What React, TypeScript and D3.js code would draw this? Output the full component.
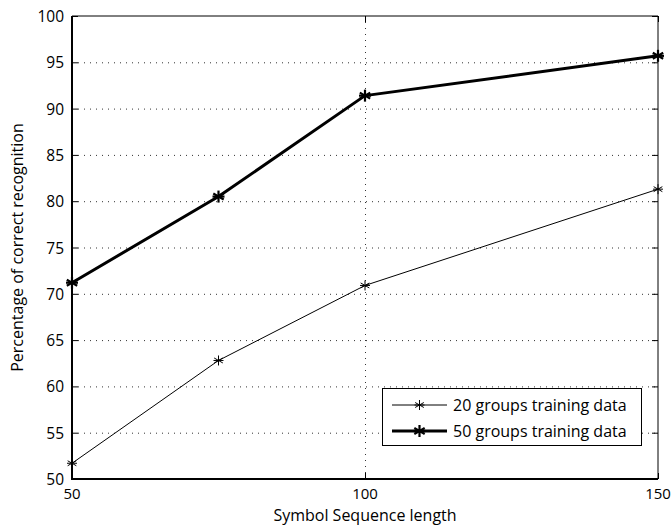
import React, { useRef, useEffect } from "react";
import * as d3 from "d3";

const seqLengths = [50, 75, 100, 150];
const groups20 = [51.7, 62.8, 70.9, 81.3];
const groups50 = [71.2, 80.5, 91.4, 95.7];
const xTicks = [50, 100, 150];
const yTicks = [50, 55, 60, 65, 70, 75, 80, 85, 90, 95, 100];
const seriesNames = ["20 groups training data", "50 groups training data"];

export default function App() {
  const ref = useRef<SVGSVGElement>(null);

  useEffect(() => {
    const width = 671;
    const height = 528;
    const m = { left: 72, right: 13, top: 16, bottom: 49 };
    const font = "'Open Sans', sans-serif";

    const svg = d3.select(ref.current);
    svg.selectAll("*").remove();
    svg.attr("width", width).attr("height", height);

    svg.append("rect").attr("width", width).attr("height", height).attr("fill", "#fff");

    const x = d3.scaleLinear().domain([50, 150]).range([m.left, width - m.right]);
    const y = d3.scaleLinear().domain([50, 100]).range([height - m.bottom, m.top]);
    const [x0, x1] = x.range();
    const [y0, y1] = y.range();

    // dotted grid
    const grid = svg.append("g").attr("stroke", "#333").attr("stroke-width", 1)
      .attr("stroke-dasharray", "1,5");
    grid.selectAll(".gy").data(yTicks.filter(t => t > 50 && t < 100)).enter()
      .append("line")
      .attr("x1", x0).attr("x2", x1)
      .attr("y1", d => y(d) + 0.5).attr("y2", d => y(d) + 0.5);
    grid.selectAll(".gx").data(xTicks.filter(t => t > 50 && t < 150)).enter()
      .append("line")
      .attr("x1", d => x(d) + 0.5).attr("x2", d => x(d) + 0.5)
      .attr("y1", y0).attr("y2", y1);

    // inward ticks
    const ticks = svg.append("g").attr("stroke", "#000").attr("stroke-width", 1);
    yTicks.forEach(t => {
      ticks.append("line").attr("x1", x0).attr("x2", x0 + 6).attr("y1", y(t) + 0.5).attr("y2", y(t) + 0.5);
      ticks.append("line").attr("x1", x1).attr("x2", x1 - 6).attr("y1", y(t) + 0.5).attr("y2", y(t) + 0.5);
    });
    xTicks.forEach(t => {
      ticks.append("line").attr("x1", x(t) + 0.5).attr("x2", x(t) + 0.5).attr("y1", y0).attr("y2", y0 - 6);
      ticks.append("line").attr("x1", x(t) + 0.5).attr("x2", x(t) + 0.5).attr("y1", y1).attr("y2", y1 + 6);
    });

    // box
    svg.append("line").attr("x1", x0).attr("x2", x1).attr("y1", y1).attr("y2", y1).attr("stroke", "#000").attr("stroke-width", 1);
    svg.append("line").attr("x1", x1).attr("x2", x1).attr("y1", y1).attr("y2", y0).attr("stroke", "#000").attr("stroke-width", 1);
    svg.append("line").attr("x1", x0).attr("x2", x0).attr("y1", y1).attr("y2", y0 + 1).attr("stroke", "#000").attr("stroke-width", 2);
    svg.append("line").attr("x1", x0 - 1).attr("x2", x1).attr("y1", y0).attr("y2", y0).attr("stroke", "#000").attr("stroke-width", 2);

    // tick labels
    svg.append("g").selectAll("text").data(yTicks).enter().append("text")
      .attr("x", x0 - 8).attr("y", d => y(d) + 6)
      .attr("text-anchor", "end").attr("font-family", font).attr("font-size", 15.5)
      .text(d => d);
    svg.append("g").selectAll("text").data(xTicks).enter().append("text")
      .attr("x", d => x(d)).attr("y", y0 + 20)
      .attr("text-anchor", "middle").attr("font-family", font).attr("font-size", 15)
      .text(d => d);

    // axis labels
    svg.append("text").attr("x", x(100)).attr("y", height - 7)
      .attr("text-anchor", "middle").attr("font-family", font).attr("font-size", 16)
      .text("Symbol Sequence length");
    svg.append("text")
      .attr("transform", `translate(23,${(y0 + y1) / 2}) rotate(-90)`)
      .attr("text-anchor", "middle").attr("font-family", font).attr("font-size", 16)
      .text("Percentage of correct recognition");

    const star = (g: any, cx: number, cy: number, r: number, sw: number) => {
      const s = g.append("g").attr("stroke", "#000").attr("stroke-width", sw);
      [0, 60, 120].forEach(a => {
        const rad = (a * Math.PI) / 180;
        s.append("line")
          .attr("x1", cx - r * Math.sin(rad)).attr("y1", cy - r * Math.cos(rad))
          .attr("x2", cx + r * Math.sin(rad)).attr("y2", cy + r * Math.cos(rad));
      });
      s.append("line").attr("x1", cx - r).attr("x2", cx + r).attr("y1", cy).attr("y2", cy);
    };

    const line = d3.line<number>().x((_, i) => x(seqLengths[i])).y(d => y(d));
    const series = [
      { vals: groups20, sw: 1, r: 5, msw: 1 },
      { vals: groups50, sw: 3, r: 6, msw: 2.2 },
    ];
    series.forEach(s => {
      svg.append("path").datum(s.vals).attr("d", line)
        .attr("fill", "none").attr("stroke", "#000").attr("stroke-width", s.sw)
        .attr("stroke-linejoin", "round");
      s.vals.forEach((v, i) => star(svg, x(seqLengths[i]), y(v), s.r, s.msw));
    });

    // legend
    const lg = svg.append("g");
    lg.append("rect").attr("x", 382.5).attr("y", 388.5).attr("width", 259).attr("height", 57)
      .attr("fill", "#fff").attr("stroke", "#000").attr("stroke-width", 1);
    series.forEach((s, i) => {
      const ly = 405 + i * 26;
      lg.append("line").attr("x1", 392).attr("x2", 447).attr("y1", ly).attr("y2", ly)
        .attr("stroke", "#000").attr("stroke-width", s.sw);
      star(lg, 419.5, ly, s.r, s.msw);
      lg.append("text").attr("x", 453).attr("y", ly + 6)
        .attr("font-family", font).attr("font-size", 16)
        .text(seriesNames[i]);
    });
  }, []);

  return <svg ref={ref} style={{ display: "block", position: "absolute", left: 0, top: 0 }}></svg>;
}
